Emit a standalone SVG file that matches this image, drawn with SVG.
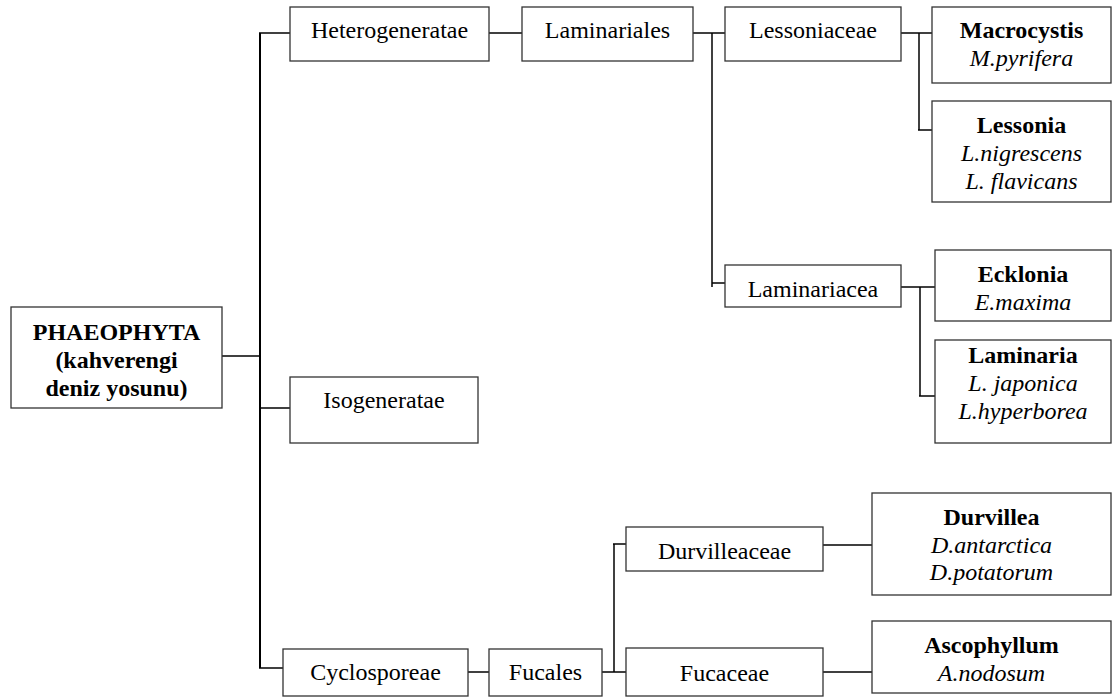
<svg xmlns="http://www.w3.org/2000/svg" width="1115" height="697" viewBox="0 0 1115 697">
<style>
rect.box{fill:#fff;stroke:#333;stroke-width:1.3}
text{font-family:"Liberation Serif","Times New Roman",serif;font-size:24px;fill:#000;text-anchor:middle}
.b{font-weight:bold}
.i{font-style:italic}
#connectors line{stroke:#000;stroke-width:1.5}
</style>
<rect width="1115" height="697" fill="#fff"/>
<g id="connectors">
<line x1="260" y1="33" x2="260" y2="668" style="stroke-width:2"/>
<line x1="259" y1="33" x2="290" y2="33"/>
<line x1="222" y1="356" x2="260" y2="356"/>
<line x1="260" y1="408" x2="290" y2="408"/>
<line x1="259" y1="668" x2="283" y2="668"/>
<line x1="489" y1="33" x2="522" y2="33"/>
<line x1="693" y1="33" x2="725" y2="33"/>
<line x1="712" y1="33" x2="712" y2="287"/>
<line x1="712" y1="283" x2="725" y2="283"/>
<line x1="901" y1="33" x2="932" y2="33"/>
<line x1="919" y1="33" x2="919" y2="130"/>
<line x1="918" y1="130" x2="932" y2="130"/>
<line x1="901" y1="287" x2="935" y2="287"/>
<line x1="920" y1="287" x2="920" y2="396"/>
<line x1="919" y1="396" x2="935" y2="396"/>
<line x1="468" y1="672" x2="489" y2="672"/>
<line x1="602" y1="672" x2="626" y2="672"/>
<line x1="614" y1="544" x2="614" y2="672"/>
<line x1="613" y1="544" x2="626" y2="544"/>
<line x1="823" y1="545" x2="872" y2="545"/>
<line x1="823" y1="672" x2="872" y2="672"/>
</g>
<g id="phaeophyta">
<rect class="box" x="11" y="307" width="211" height="101"/>
<text class="b" x="116.5" y="340">PHAEOPHYTA</text>
<text class="b" x="116.5" y="368">(kahverengi</text>
<text class="b" x="116.5" y="396">deniz yosunu)</text>
</g>
<g id="heterogeneratae">
<rect class="box" x="290" y="7" width="199" height="54"/>
<text x="389.5" y="38">Heterogeneratae</text>
</g>
<g id="laminariales">
<rect class="box" x="522" y="7" width="171" height="54"/>
<text x="607.5" y="38">Laminariales</text>
</g>
<g id="lessoniaceae">
<rect class="box" x="725" y="7" width="176" height="54"/>
<text x="813" y="38">Lessoniaceae</text>
</g>
<g id="macrocystis">
<rect class="box" x="932" y="7" width="179" height="76"/>
<text class="b" x="1021.5" y="38">Macrocystis</text>
<text class="i" x="1021.5" y="66">M.pyrifera</text>
</g>
<g id="lessonia">
<rect class="box" x="932" y="101" width="179" height="101"/>
<text class="b" x="1021.5" y="133">Lessonia</text>
<text class="i" x="1021.5" y="161">L.nigrescens</text>
<text class="i" x="1021.5" y="189">L. flavicans</text>
</g>
<g id="laminariacea">
<rect class="box" x="725" y="265" width="176" height="42"/>
<text x="813" y="297">Laminariacea</text>
</g>
<g id="ecklonia">
<rect class="box" x="935" y="250" width="176" height="71"/>
<text class="b" x="1023" y="282">Ecklonia</text>
<text class="i" x="1023" y="310">E.maxima</text>
</g>
<g id="laminaria">
<rect class="box" x="935" y="340" width="176" height="103"/>
<text class="b" x="1023" y="363">Laminaria</text>
<text class="i" x="1023" y="391">L. japonica</text>
<text class="i" x="1023" y="419">L.hyperborea</text>
</g>
<g id="isogeneratae">
<rect class="box" x="290" y="377" width="188" height="66"/>
<text x="384" y="408">Isogeneratae</text>
</g>
<g id="cyclosporeae">
<rect class="box" x="283" y="649" width="185" height="47"/>
<text x="375.5" y="680">Cyclosporeae</text>
</g>
<g id="fucales">
<rect class="box" x="489" y="649" width="113" height="47"/>
<text x="545.5" y="680">Fucales</text>
</g>
<g id="durvilleaceae">
<rect class="box" x="626" y="527" width="197" height="44"/>
<text x="724.5" y="559">Durvilleaceae</text>
</g>
<g id="fucaceae">
<rect class="box" x="626" y="648" width="197" height="48"/>
<text x="724.5" y="681">Fucaceae</text>
</g>
<g id="durvillea">
<rect class="box" x="872" y="493" width="239" height="102"/>
<text class="b" x="991.5" y="525">Durvillea</text>
<text class="i" x="991.5" y="553">D.antarctica</text>
<text class="i" x="991.5" y="580">D.potatorum</text>
</g>
<g id="ascophyllum">
<rect class="box" x="872" y="621" width="239" height="72"/>
<text class="b" x="991.5" y="653">Ascophyllum</text>
<text class="i" x="991.5" y="681">A.nodosum</text>
</g>
</svg>
